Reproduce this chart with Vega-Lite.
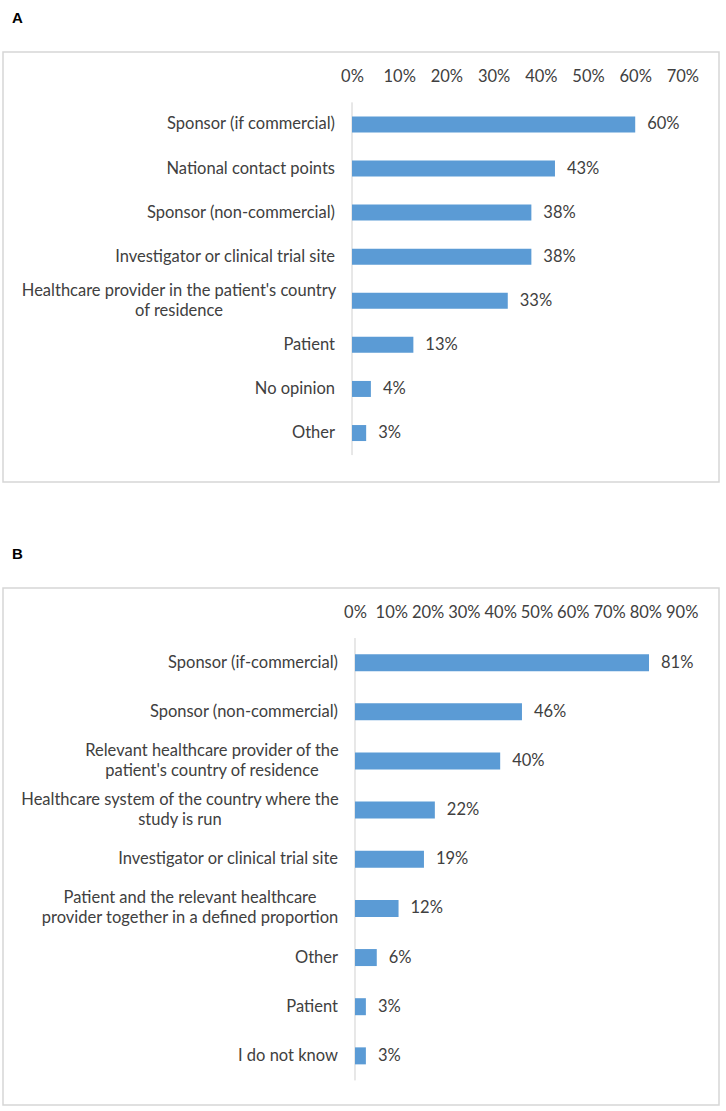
{
  "$schema": "https://vega.github.io/schema/vega-lite/v6.json",
  "background": "white",
  "padding": {"left": 2, "top": 10, "right": 2, "bottom": 2},
  "spacing": 63,
  "config": {
    "view": {"stroke": "#d6d6d6", "strokeWidth": 1.5},
    "title": {"fontSize": 15, "fontWeight": "bold", "font": "Liberation Sans", "anchor": "start", "frame": "group", "offset": 26, "dx": 9, "color": "#000000"},
    "text": {"font": "Lato", "fontSize": 16.5, "color": "#404040"},
    "axis": {"labelFont": "Lato", "labelFontSize": 16.5, "labelColor": "#404040"}
  },
  "datasets": {
    "a": [
      {"idx": 1, "label": "Sponsor (if commercial)", "value": 0.60},
      {"idx": 2, "label": "National contact points", "value": 0.43},
      {"idx": 3, "label": "Sponsor (non-commercial)", "value": 0.38},
      {"idx": 4, "label": "Investigator or clinical trial site", "value": 0.38},
      {"idx": 5, "label": "Healthcare provider in the patient's country\nof residence", "value": 0.33},
      {"idx": 6, "label": "Patient", "value": 0.13},
      {"idx": 7, "label": "No opinion", "value": 0.04},
      {"idx": 8, "label": "Other", "value": 0.03}
    ],
    "b": [
      {"idx": 1, "label": "Sponsor (if-commercial)", "value": 0.81},
      {"idx": 2, "label": "Sponsor (non-commercial)", "value": 0.46},
      {"idx": 3, "label": "Relevant healthcare provider of the\npatient's country of residence", "value": 0.40},
      {"idx": 4, "label": "Healthcare system of the country where the\nstudy is run", "value": 0.22},
      {"idx": 5, "label": "Investigator or clinical trial site", "value": 0.19},
      {"idx": 6, "label": "Patient and the relevant healthcare\nprovider together in a defined proportion", "value": 0.12},
      {"idx": 7, "label": "Other", "value": 0.06},
      {"idx": 8, "label": "Patient", "value": 0.03},
      {"idx": 9, "label": "I do not know", "value": 0.03}
    ]
  },
  "vconcat": [
    {
      "title": "A",
      "width": 716,
      "height": 430,
      "layer": [
        {
          "data": {"values": [{}]},
          "mark": {"type": "rule", "color": "#d0d0d0", "strokeWidth": 1},
          "encoding": {
            "x": {"datum": 0, "type": "quantitative",
                  "scale": {"domain": [-0.7394, 0.7775], "nice": false, "zero": false},
                  "axis": {"orient": "top", "values": [0, 0.1, 0.2, 0.3, 0.4, 0.5, 0.6, 0.7], "format": ".0%", "grid": false, "ticks": false, "domain": false, "title": null, "offset": -24, "labelPadding": 0, "labelBaseline": "middle", "labelFlush": false, "labelOverlap": false}},
            "y": {"datum": 0.5, "type": "quantitative", "scale": {"domain": [-0.529, 8.997], "reverse": true, "nice": false, "zero": false}, "axis": null},
            "y2": {"datum": 8.5}
          }
        },
        {
          "data": {"name": "a"},
          "mark": {"type": "bar", "orient": "horizontal", "size": 16, "color": "#5b9bd5"},
          "encoding": {
            "x": {"field": "value", "type": "quantitative"},
            "x2": {"datum": 0},
            "y": {"field": "idx", "type": "quantitative"}
          }
        },
        {
          "data": {"name": "a"},
          "transform": [{"filter": "indexof(datum.label, '\\n') < 0"}],
          "mark": {"type": "text", "align": "right", "baseline": "middle", "dx": -17},
          "encoding": {
            "x": {"datum": 0, "type": "quantitative"},
            "y": {"field": "idx", "type": "quantitative"},
            "text": {"field": "label"}
          }
        },
        {
          "data": {"name": "a"},
          "transform": [{"filter": "datum.idx == 5"}],
          "mark": {"type": "text", "align": "center", "baseline": "middle", "dx": -173, "dy": -10, "lineBreak": "\n", "lineHeight": 20},
          "encoding": {
            "x": {"datum": 0, "type": "quantitative"},
            "y": {"field": "idx", "type": "quantitative"},
            "text": {"field": "label"}
          }
        },
        {
          "data": {"name": "a"},
          "mark": {"type": "text", "align": "left", "baseline": "middle", "dx": 12},
          "encoding": {
            "x": {"field": "value", "type": "quantitative"},
            "y": {"field": "idx", "type": "quantitative"},
            "text": {"field": "value", "format": ".0%"}
          }
        }
      ]
    },
    {
      "title": "B",
      "width": 716,
      "height": 517,
      "layer": [
        {
          "data": {"values": [{}]},
          "mark": {"type": "rule", "color": "#d0d0d0", "strokeWidth": 1},
          "encoding": {
            "x": {"datum": 0, "type": "quantitative",
                  "scale": {"domain": [-0.9697, 1.0028], "nice": false, "zero": false},
                  "axis": {"orient": "top", "values": [0, 0.1, 0.2, 0.3, 0.4, 0.5, 0.6, 0.7, 0.8, 0.9], "format": ".0%", "grid": false, "ticks": false, "domain": false, "title": null, "offset": -24, "labelPadding": 0, "labelBaseline": "middle", "labelFlush": false, "labelOverlap": false}},
            "y": {"datum": 0.5, "type": "quantitative", "scale": {"domain": [-0.4165, 9.898], "reverse": true, "nice": false, "zero": false}, "axis": null},
            "y2": {"datum": 9.5}
          }
        },
        {
          "data": {"name": "b"},
          "mark": {"type": "bar", "orient": "horizontal", "size": 17, "color": "#5b9bd5"},
          "encoding": {
            "x": {"field": "value", "type": "quantitative"},
            "x2": {"datum": 0},
            "y": {"field": "idx", "type": "quantitative"}
          }
        },
        {
          "data": {"name": "b"},
          "transform": [{"filter": "indexof(datum.label, '\\n') < 0"}],
          "mark": {"type": "text", "align": "right", "baseline": "middle", "dx": -17},
          "encoding": {
            "x": {"datum": 0, "type": "quantitative"},
            "y": {"field": "idx", "type": "quantitative"},
            "text": {"field": "label"}
          }
        },
        {
          "data": {"name": "b"},
          "transform": [{"filter": "datum.idx == 3"}],
          "mark": {"type": "text", "align": "center", "baseline": "middle", "dx": -143, "dy": -10, "lineBreak": "\n", "lineHeight": 20},
          "encoding": {
            "x": {"datum": 0, "type": "quantitative"},
            "y": {"field": "idx", "type": "quantitative"},
            "text": {"field": "label"}
          }
        },
        {
          "data": {"name": "b"},
          "transform": [{"filter": "datum.idx == 4"}],
          "mark": {"type": "text", "align": "center", "baseline": "middle", "dx": -175, "dy": -10, "lineBreak": "\n", "lineHeight": 20},
          "encoding": {
            "x": {"datum": 0, "type": "quantitative"},
            "y": {"field": "idx", "type": "quantitative"},
            "text": {"field": "label"}
          }
        },
        {
          "data": {"name": "b"},
          "transform": [{"filter": "datum.idx == 6"}],
          "mark": {"type": "text", "align": "center", "baseline": "middle", "dx": -165, "dy": -10, "lineBreak": "\n", "lineHeight": 20},
          "encoding": {
            "x": {"datum": 0, "type": "quantitative"},
            "y": {"field": "idx", "type": "quantitative"},
            "text": {"field": "label"}
          }
        },
        {
          "data": {"name": "b"},
          "mark": {"type": "text", "align": "left", "baseline": "middle", "dx": 12},
          "encoding": {
            "x": {"field": "value", "type": "quantitative"},
            "y": {"field": "idx", "type": "quantitative"},
            "text": {"field": "value", "format": ".0%"}
          }
        }
      ]
    }
  ]
}
